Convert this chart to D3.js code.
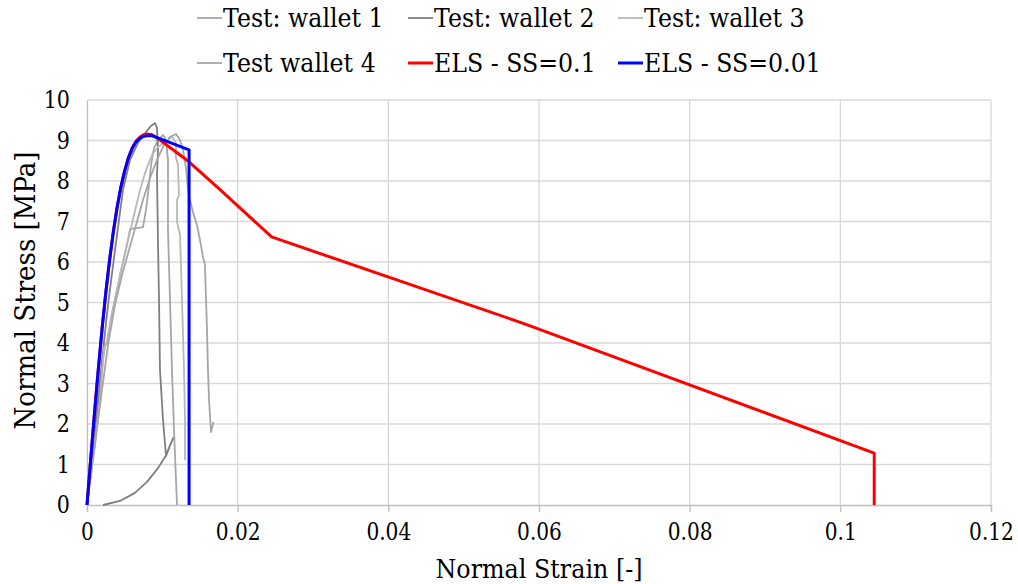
<!DOCTYPE html>
<html>
<head>
<meta charset="utf-8">
<script src="https://cdn.jsdelivr.net/npm/d3@7/dist/d3.min.js"></script>
<style>
  html, body { margin: 0; padding: 0; background: #fff; }
  svg { display: block; }
</style>
</head>
<body>
<svg id="chart" width="1018" height="584"></svg>
<script>
// Axis ticks
const strainTicks = [0, 0.02, 0.04, 0.06, 0.08, 0.1, 0.12];
const stressTicks = [0, 1, 2, 3, 4, 5, 6, 7, 8, 9, 10];

// Wallet test curves: [normal strain, normal stress (MPa)]
const wallet1 = [[0,0],[0.0008,1.23],[0.0016,2.59],[0.00212,3.58],[0.00239,3.95],[0.00265,4.0],[0.00319,4.62],[0.00398,5.31],[0.00478,6.0],[0.00544,6.54],[0.00571,6.81],[0.00743,6.86],[0.00783,7.28],[0.00823,7.9],[0.0085,8.4],[0.00889,8.81],[0.00943,9.01],[0.01009,9.14],[0.01049,9.01],[0.01075,8.52],[0.01075,6.79],[0.01102,5.06],[0.01128,3.33],[0.01155,1.85],[0.01195,0]];
const wallet2 = [[0,0],[0.00066,1.11],[0.00133,2.35],[0.002,3.58],[0.00279,4.94],[0.00372,6.3],[0.00478,7.78],[0.00571,8.52],[0.00677,8.94],[0.00783,9.21],[0.0085,9.36],[0.00903,9.43],[0.00929,9.31],[0.00943,8.77],[0.00929,8.15],[0.00943,6.42],[0.00956,5.06],[0.00969,3.33],[0.01009,2.1],[0.01049,1.21],[0.01142,1.65],[0.01049,1.23],[0.00943,0.91],[0.00796,0.57],[0.00637,0.3],[0.00438,0.1],[0.00212,0]];
const wallet3 = [[0,0],[0.00093,1.36],[0.00173,2.59],[0.00226,3.88],[0.00252,3.95],[0.00292,4.32],[0.00358,4.94],[0.00438,5.68],[0.00531,6.42],[0.00624,7.16],[0.00704,7.78],[0.00783,8.27],[0.00863,8.64],[0.00943,8.84],[0.01035,8.96],[0.01128,9.09],[0.01181,8.94],[0.01181,8.57],[0.01208,8.4],[0.01221,7.65],[0.01195,7.53],[0.01195,6.99],[0.01235,6.67],[0.01261,5.06],[0.01288,3.33],[0.01301,2.1],[0.01301,1.11]];
const wallet4 = [[0,0],[0.00106,1.48],[0.00199,2.84],[0.00279,3.95],[0.00372,4.94],[0.00465,5.68],[0.00558,6.3],[0.0065,6.91],[0.00743,7.53],[0.00836,8.07],[0.00929,8.52],[0.01022,8.89],[0.01102,9.09],[0.01181,9.16],[0.01235,9.01],[0.01274,8.77],[0.01314,8.32],[0.01341,7.78],[0.01367,7.53],[0.01407,7.23],[0.0146,6.91],[0.015,6.54],[0.0154,6.12],[0.01566,5.93],[0.0158,5.06],[0.01593,4.32],[0.01606,3.33],[0.0162,2.59],[0.01646,1.8],[0.01679,2.05]];

// ELS model curves
const elsSS01 = [[0,0],[0.0005,1.15],[0.001,2.28],[0.0015,3.35],[0.002,4.35],[0.0025,5.25],[0.003,6.05],[0.0035,6.75],[0.004,7.35],[0.0045,7.85],[0.005,8.25],[0.0055,8.58],[0.006,8.82],[0.0065,8.98],[0.007,9.08],[0.0075,9.14],[0.008,9.16],[0.0085,9.15],[0.0092,9.08],[0.0135,8.48],[0.0177,7.78],[0.0245,6.62],[0.058,4.48],[0.1045,1.28],[0.1045,0]];
const elsSS001 = [[0,0],[0.0005,1.15],[0.001,2.28],[0.0015,3.35],[0.002,4.35],[0.0025,5.25],[0.003,6.05],[0.0035,6.75],[0.004,7.35],[0.0045,7.85],[0.005,8.25],[0.0055,8.57],[0.006,8.8],[0.0065,8.96],[0.007,9.05],[0.0075,9.1],[0.008,9.12],[0.0086,9.12],[0.01355,8.77],[0.01355,0]];

const seriesNames = ["Test: wallet 1", "Test: wallet 2", "Test: wallet 3", "Test wallet 4", "ELS - SS=0.1", "ELS - SS=0.01"];
const seriesColors = ["#a6a6a6", "#7f7f7f", "#b8b8b8", "#a6a6a6", "#ff0000", "#0000ff"];
const seriesData = [wallet1, wallet2, wallet3, wallet4, elsSS01, elsSS001];
const seriesWidths = [1.8, 1.8, 1.8, 1.8, 3, 3];

// Serif face, narrowed a little to Times-like proportions
const FONT = "'DejaVu Serif', 'Liberation Serif', serif";
function narrow(sel, k) {
  sel.each(function () {
    const len = this.getComputedTextLength();
    d3.select(this).attr("textLength", len * k).attr("lengthAdjust", "spacingAndGlyphs");
  });
}

const svg = d3.select("#chart");
const margin = { left: 87, right: 27, top: 100, bottom: 79 };
const W = 1018, H = 584;

const x = d3.scaleLinear().domain([0, 0.12]).range([margin.left, W - margin.right]);
const y = d3.scaleLinear().domain([0, 10]).range([H - margin.bottom, margin.top]);

// Gridlines
const grid = svg.append("g").attr("stroke", "#d9d9d9").attr("stroke-width", 1.3);
grid.selectAll("line.h")
  .data(stressTicks.filter(d => d > 0))
  .join("line").attr("class", "h")
  .attr("x1", x(0)).attr("x2", x(0.12))
  .attr("y1", d => y(d)).attr("y2", d => y(d));
grid.selectAll("line.v")
  .data(strainTicks.filter(d => d > 0))
  .join("line").attr("class", "v")
  .attr("x1", d => x(d)).attr("x2", d => x(d))
  .attr("y1", y(0)).attr("y2", y(10));

// X axis (labels condensed horizontally about each tick)
const xAxis = svg.append("g")
  .attr("transform", `translate(0,${y(0)})`)
  .call(d3.axisBottom(x).tickValues(strainTicks).tickSize(7).tickPadding(11)
    .tickFormat(d => String(+d.toFixed(2))));
xAxis.select(".domain").attr("stroke", "#bfbfbf").attr("stroke-width", 1.3);
xAxis.selectAll(".tick line").attr("stroke", "#bfbfbf").attr("stroke-width", 1.3);
xAxis.selectAll(".tick text").attr("font-size", 24).style("font-family", FONT).attr("fill", "#000")
  .attr("transform", "scale(0.84,1)");

// Y axis
const yAxis = svg.append("g")
  .attr("transform", `translate(${x(0)},0)`)
  .call(d3.axisLeft(y).tickValues(stressTicks).tickSize(0).tickPadding(17));
yAxis.select(".domain").attr("stroke", "#bfbfbf").attr("stroke-width", 1.3);
yAxis.selectAll(".tick text").attr("font-size", 24).style("font-family", FONT).attr("fill", "#000")
  .call(narrow, 0.86);

// Axis titles
svg.append("text")
  .attr("x", (x(0) + x(0.12)) / 2).attr("y", 578)
  .attr("text-anchor", "middle").attr("font-size", 26)
  .style("font-family", FONT)
  .attr("textLength", 207).attr("lengthAdjust", "spacingAndGlyphs")
  .text("Normal Strain [-]");
svg.append("text")
  .attr("transform", `translate(35,${(y(0) + y(10)) / 2 - 12}) rotate(-90)`)
  .attr("text-anchor", "middle").attr("font-size", 27)
  .style("font-family", FONT)
  .attr("textLength", 278).attr("lengthAdjust", "spacingAndGlyphs")
  .text("Normal Stress [MPa]");

// Curves
const line = d3.line().x(d => x(d[0])).y(d => y(d[1]));
svg.append("g")
  .attr("fill", "none")
  .attr("stroke-linejoin", "round")
  .selectAll("path")
  .data(seriesData.map((d, i) => ({ d, i })))
  .join("path")
  .attr("d", s => line(s.d))
  .attr("stroke", s => seriesColors[s.i])
  .attr("stroke-width", s => seriesWidths[s.i]);

// Legend (two rows of three)
const legendX = [197, 408, 618];
const legendY = [18, 63];
const legend = svg.append("g")
  .selectAll("g")
  .data(seriesNames.map((n, i) => ({ n, i })))
  .join("g")
  .attr("transform", s => `translate(${legendX[s.i % 3]},${legendY[Math.floor(s.i / 3)]})`);
legend.append("line")
  .attr("x1", 0).attr("x2", 25).attr("y1", 0).attr("y2", 0)
  .attr("stroke", s => seriesColors[s.i])
  .attr("stroke-width", s => seriesWidths[s.i]);
legend.append("text")
  .attr("x", 26).attr("y", 0).attr("dy", "0.36em")
  .attr("font-size", 26)
  .style("font-family", FONT)
  .text(s => s.n)
  .call(narrow, 0.91);
</script>
</body>
</html>
